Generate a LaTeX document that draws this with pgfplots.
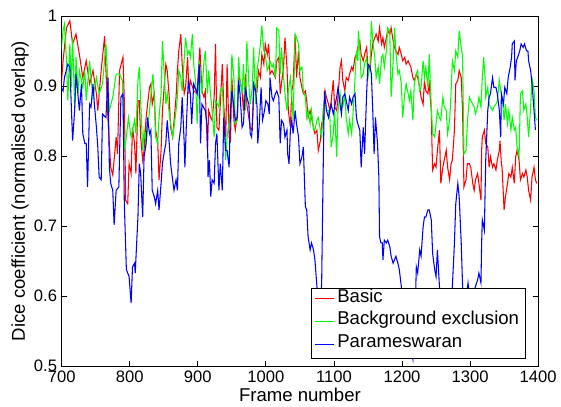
\documentclass[border=0pt]{standalone}
\usepackage{fontspec}
\setmainfont{Liberation Sans}
\usepackage{pgfplots}
\pgfplotsset{compat=1.18}

\begin{document}
\begin{tikzpicture}[
    legtext/.style={anchor=mid west, inner sep=0pt, font=\fontsize{14}{16}\selectfont},
]
\begin{axis}[
    scale only axis,
    width=359pt, height=264pt,
    xmin=700, xmax=1400, ymin=0.5, ymax=1,
    xtick={700,800,...,1400},
    ytick={0.5,0.6,0.7,0.8,0.9,1},
    yticklabels={0.5,0.6,0.7,0.8,0.9,1},
    tick align=inside,
    major tick length=4pt,
    axis line style={line width=0.6pt},
    every tick/.style={black, line width=0.6pt},
    ticklabel style={font=\fontsize{12.5}{14}\selectfont},
    /pgf/number format/assume math mode=true,
    /pgf/number format/1000 sep={},
    xlabel={Frame number},
    ylabel={Dice coefficient (normalised overlap)},
    label style={font=\fontsize{14}{16}\selectfont},
    xlabel style={yshift=3pt},
    ylabel style={yshift=-3pt},
    every axis plot/.append style={line width=0.8pt},
]
% Basic
\addplot[red] coordinates {
(697,0.870) (702,0.936) (707,0.983) (712,0.993) (716,0.960) (721,0.974) (726,0.945)
(731,0.912) (736,0.936) (741,0.903) (746,0.922) (751,0.889) (753,0.865) (758,0.922)
(763,0.971) (768,0.851) (772,0.784) (775,0.773) (780,0.827) (782,0.803)
(785,0.922) (790,0.941) (792,0.879) (794,0.737) (797,0.732) (799,0.789) (802,0.775)
(804,0.841) (807,0.818) (809,0.775) (812,0.879) (814,0.879) (816,0.827) (819,0.794)
(821,0.808) (824,0.855) (829,0.898) (831,0.903) (833,0.874) (836,0.889) (838,0.837)
(841,0.822) (843,0.766) (846,0.808) (848,0.865) (853,0.931) (855,0.922) (858,0.884)
(860,0.841) (863,0.827) (868,0.884) (870,0.922)
(872,0.950) (875,0.974) (877,0.931) (880,0.889) (882,0.898) (885,0.941) (887,0.889)
(889,0.908) (894,0.893) (899,0.889) (903,0.955) (906,0.893) (909,0.884) (911,0.893)
(914,0.808) (916,0.865) (919,0.855) (921,0.851) (924,0.884) (926,0.960) (928,0.841)
(931,0.837) (933,0.874) (936,0.931) (938,0.874) (941,0.827) (943,0.931) (946,0.827)
(948,0.822) (950,0.912) (953,0.851) (955,0.837) (958,0.860) (960,0.917)
(962,0.908) (965,0.893) (967,0.865) (970,0.917) (972,0.874) (977,0.841) (980,0.837)
(982,0.893) (985,0.898) (987,0.893) (989,0.922) (992,0.912) (994,0.945) (997,0.931)
(999,0.960) (1002,0.945) (1004,0.960) (1006,0.917) (1009,0.922) (1014,0.912)
(1016,0.936) (1019,0.941) (1021,0.889) (1026,0.927) (1028,0.969) (1031,0.927)
(1033,0.865) (1036,0.841) (1038,0.893) (1040,0.903) (1043,0.974) (1045,0.912)
(1048,0.950) (1050,0.912) (1053,0.898) (1055,0.889) (1058,0.893) (1060,0.879)
(1062,0.855) (1065,0.865) (1067,0.855) (1070,0.841) (1072,0.832) (1075,0.837)
(1077,0.808) (1080,0.822) (1082,0.846) (1084,0.841) (1087,0.893) (1089,0.884)
(1092,0.874) (1094,0.865) (1096,0.879) (1099,0.908) (1101,0.870) (1104,0.865)
(1106,0.884) (1109,0.927) (1111,0.936) (1113,0.908) (1116,0.893) (1118,0.912)
(1121,0.908) (1123,0.917) (1126,0.927) (1128,0.922) (1131,0.941) (1133,0.945)
(1135,0.955) (1138,0.964) (1140,0.945) (1143,0.936) (1145,0.945) (1148,0.955)
(1150,0.927) (1153,0.922) (1155,0.945) (1157,0.960) (1160,0.969) (1162,0.974)
(1165,0.964) (1167,0.983) (1170,0.960) (1172,0.969) (1174,0.955) (1177,0.969)
(1179,0.979) (1182,0.974) (1184,0.983) (1187,0.964) (1189,0.955) (1191,0.950)
(1194,0.945) (1196,0.955) (1199,0.945) (1201,0.936) (1204,0.941) (1206,0.931)
(1209,0.936) (1211,0.931) (1213,0.927) (1216,0.912) (1218,0.908) (1221,0.917)
(1223,0.912) (1226,0.898) (1228,0.884) (1231,0.874) (1233,0.908) (1235,0.893)
(1238,0.889) (1240,0.903) (1243,0.865) (1244,0.818) (1245,0.780) (1248,0.789)
(1250,0.784) (1252,0.808) (1255,0.837) (1257,0.761) (1260,0.784) (1262,0.794)
(1265,0.808) (1267,0.784) (1270,0.766) (1272,0.789) (1274,0.794) (1277,0.837)
(1279,0.903) (1282,0.908) (1284,0.922) (1287,0.912) (1289,0.865) (1291,0.756)
(1294,0.766) (1296,0.789) (1299,0.789) (1301,0.784) (1304,0.761) (1306,0.751)
(1308,0.766) (1311,0.775) (1313,0.761) (1316,0.737) (1317,0.808) (1318,0.827)
(1321,0.837) (1323,0.818) (1326,0.813) (1328,0.784) (1330,0.799) (1333,0.784)
(1335,0.789) (1338,0.780) (1340,0.794) (1343,0.808) (1344,0.822) (1346,0.789)
(1347,0.784) (1350,0.723) (1352,0.742) (1355,0.761) (1357,0.775) (1360,0.770)
(1362,0.784) (1365,0.761) (1367,0.799) (1369,0.808) (1372,0.794) (1374,0.766)
(1377,0.775) (1379,0.770) (1382,0.780) (1384,0.770) (1386,0.751) (1389,0.737)
(1391,0.770) (1394,0.784) (1396,0.766) (1398,0.761)
};
% Background exclusion
\addplot[green] coordinates {
(697,0.912) (699,0.950) (702,0.979) (704,0.988) (707,0.936) (709,0.879) (712,0.960)
(714,0.898) (716,0.969) (719,0.870) (721,0.941) (724,0.889) (726,0.922) (731,0.898)
(734,0.922) (736,0.879) (741,0.936) (743,0.912) (746,0.884) (751,0.912) (755,0.889)
(760,0.903) (765,0.960) (770,0.865) (775,0.884) (780,0.917) (785,0.917)
(789,0.908) (792,0.808) (795,0.827) (798,0.855) (802,0.827) (807,0.851) (809,0.832)
(812,0.908) (814,0.927) (816,0.879) (819,0.808) (821,0.837) (824,0.818) (829,0.865)
(834,0.917) (836,0.884) (838,0.827) (841,0.818) (843,0.855) (846,0.889) (848,0.964)
(851,0.912) (853,0.874) (855,0.889) (858,0.860) (863,0.827) (865,0.841) (868,0.865)
(870,0.884) (872,0.922) (875,0.912) (877,0.893) (882,0.969) (885,0.945) (887,0.950)
(889,0.941) (892,0.974) (894,0.931) (897,0.903) (899,0.846) (902,0.936) (904,0.912)
(906,0.889) (909,0.936) (911,0.950) (914,0.889) (916,0.922) (919,0.884) (921,0.865)
(924,0.827) (926,0.879) (931,0.870) (933,0.893) (936,0.898) (941,0.794) (943,0.827)
(946,0.851) (948,0.865) (950,0.945) (953,0.912) (955,0.846) (958,0.851) (960,0.941)
(962,0.908) (965,0.889) (967,0.931) (970,0.865) (972,0.964) (975,0.903) (977,0.874)
(980,0.898) (982,0.955) (985,0.874) (987,0.922) (989,0.936) (992,0.960) (994,0.986)
(997,0.950) (999,0.945) (1002,0.922) (1004,0.927) (1006,0.936) (1009,0.927)
(1011,0.931) (1014,0.912) (1016,0.983) (1019,0.979) (1021,0.917) (1023,0.955)
(1026,0.912) (1028,0.889) (1031,0.865) (1033,0.893) (1036,0.912) (1038,0.884)
(1040,0.851) (1043,0.974) (1045,0.969) (1048,0.960) (1050,0.922) (1053,0.927)
(1055,0.893) (1058,0.884) (1060,0.855) (1062,0.865) (1065,0.846) (1067,0.865)
(1070,0.837) (1072,0.837) (1075,0.851) (1077,0.855) (1080,0.837) (1082,0.827)
(1084,0.865) (1087,0.884) (1089,0.865) (1092,0.865) (1094,0.855) (1096,0.813)
(1099,0.832) (1101,0.865) (1104,0.799) (1106,0.865) (1109,0.889) (1111,0.870)
(1113,0.870) (1116,0.889) (1118,0.855) (1121,0.832) (1123,0.851) (1126,0.832)
(1128,0.860) (1131,0.912) (1133,0.950) (1135,0.936) (1136,0.979) (1138,0.950)
(1140,0.912) (1143,0.917) (1145,0.931) (1148,0.941) (1150,0.912) (1153,0.931)
(1155,0.993) (1157,0.964) (1160,0.941) (1162,0.912) (1165,0.927) (1167,0.903)
(1170,0.941) (1172,0.945) (1174,0.927) (1177,0.950) (1179,0.983) (1182,0.979)
(1184,0.884) (1187,0.936) (1189,0.983) (1191,0.950) (1194,0.917) (1196,0.922)
(1199,0.903) (1201,0.855) (1204,0.889) (1206,0.903) (1209,0.889) (1211,0.879)
(1213,0.893) (1216,0.851) (1218,0.903) (1221,0.917) (1223,0.922) (1226,0.893)
(1228,0.898) (1231,0.936) (1233,0.912) (1235,0.927) (1238,0.898) (1240,0.945)
(1243,0.870) (1245,0.832) (1248,0.827) (1250,0.846) (1252,0.865) (1255,0.855)
(1257,0.851) (1260,0.884) (1262,0.870) (1265,0.865) (1267,0.832) (1270,0.851)
(1272,0.889) (1274,0.936) (1277,0.922) (1279,0.950) (1282,0.941) (1284,0.979)
(1287,0.955) (1289,0.941) (1291,0.803) (1294,0.808) (1296,0.846) (1299,0.884)
(1301,0.879) (1304,0.874) (1306,0.870) (1308,0.860) (1311,0.870) (1313,0.884)
(1316,0.870) (1318,0.912) (1320,0.941) (1322,0.912) (1323,0.884) (1326,0.898)
(1328,0.874) (1330,0.870) (1333,0.865) (1335,0.870) (1338,0.874) (1340,0.879)
(1343,0.908) (1345,0.893) (1347,0.884) (1350,0.851) (1352,0.874) (1355,0.846)
(1357,0.865) (1360,0.837) (1362,0.855) (1365,0.837) (1367,0.841) (1369,0.813)
(1372,0.799) (1374,0.889) (1377,0.893) (1379,0.865) (1382,0.874) (1384,0.855)
(1386,0.827) (1389,0.870) (1391,0.912) (1394,0.893) (1396,0.855) (1398,0.851)
};
% Parameswaran
\addplot[blue] coordinates {
(697,0.922) (699,0.898) (702,0.893) (704,0.912) (709,0.931) (712,0.927) (716,0.822)
(719,0.865) (721,0.917) (726,0.865) (729,0.903) (731,0.832) (734,0.818) (736,0.818)
(738,0.756) (741,0.874) (743,0.870) (746,0.903) (748,0.874) (751,0.841) (753,0.813)
(755,0.770) (758,0.766) (760,0.860) (765,0.855) (768,0.912) (770,0.784) (772,0.761)
(775,0.751) (777,0.702) (780,0.751) (784,0.756)
(785,0.803) (787,0.884) (790,0.889) (792,0.732) (795,0.638) (797,0.633) (799,0.628)
(802,0.590) (804,0.642) (807,0.647) (808,0.633) (812,0.713) (814,0.789) (816,0.775)
(819,0.713) (821,0.799) (824,0.818) (826,0.855) (829,0.832) (831,0.837) (833,0.751)
(836,0.742) (838,0.732) (841,0.751) (843,0.723) (846,0.761) (848,0.789) (851,0.808)
(853,0.818) (855,0.851) (858,0.818) (860,0.789) (863,0.766) (865,0.751) (868,0.766)
(870,0.751) (872,0.818) (875,0.841) (877,0.884) (880,0.818) (881,0.784) (883,0.841)
(886,0.908) (889,0.889) (891,0.846) (894,0.903) (899,0.889) (902,0.931) (904,0.818)
(906,0.874) (911,0.865) (914,0.841) (915,0.770) (917,0.794) (919,0.742) (921,0.766)
(924,0.761) (926,0.818) (928,0.832) (931,0.751) (933,0.789) (936,0.751) (938,0.855)
(941,0.808) (943,0.808) (946,0.784) (948,0.865) (950,0.893) (953,0.870) (955,0.851)
(958,0.855) (960,0.908) (962,0.889) (965,0.841) (967,0.846) (970,0.898) (972,0.884)
(975,0.874) (977,0.832) (979,0.827) (981,0.865) (982,0.903) (985,0.893) (987,0.870)
(988,0.818) (990,0.841) (993,0.898) (995,0.851) (998,0.865) (1000,0.879) (1003,0.874)
(1005,0.860) (1006,0.912) (1009,0.884) (1011,0.879) (1014,0.889) (1016,0.893)
(1019,0.884) (1021,0.818) (1023,0.851) (1026,0.846) (1028,0.827) (1031,0.837)
(1032,0.803) (1034,0.789) (1036,0.837) (1038,0.851) (1040,0.832) (1043,0.865)
(1045,0.846) (1048,0.827) (1050,0.789) (1053,0.799) (1055,0.813) (1058,0.728)
(1060,0.723) (1062,0.685) (1065,0.666) (1067,0.676) (1070,0.666) (1072,0.652)
(1075,0.614) (1077,0.590) (1080,0.570) (1082,0.623) (1084,0.770) (1086,0.893)
(1089,0.865) (1092,0.855) (1094,0.865) (1096,0.874) (1099,0.860) (1101,0.870)
(1104,0.884) (1106,0.898) (1109,0.874) (1111,0.860) (1113,0.884) (1116,0.889)
(1118,0.879) (1121,0.865) (1123,0.884) (1126,0.874) (1128,0.884) (1131,0.889)
(1133,0.855) (1135,0.846) (1138,0.837) (1140,0.784) (1143,0.841) (1145,0.803)
(1148,0.889) (1150,0.931) (1153,0.927) (1155,0.917) (1157,0.865) (1159,0.803)
(1161,0.855) (1164,0.818) (1166,0.770) (1167,0.685) (1169,0.676) (1171,0.676)
(1172,0.652) (1174,0.680) (1177,0.676) (1179,0.680) (1182,0.671) (1184,0.657)
(1187,0.647) (1189,0.652) (1191,0.657) (1194,0.647) (1196,0.638) (1199,0.614)
(1203,0.570) (1208,0.550) (1212,0.530) (1216,0.510) (1219,0.560) (1221,0.642)
(1223,0.633) (1226,0.666) (1228,0.657) (1231,0.699) (1233,0.713) (1235,0.713)
(1238,0.723) (1240,0.723) (1243,0.709) (1245,0.661) (1248,0.638) (1250,0.628)
(1252,0.666) (1255,0.614) (1259,0.580) (1263,0.600) (1267,0.570) (1271,0.590)
(1274,0.614) (1277,0.676) (1279,0.732) (1282,0.761) (1284,0.742) (1287,0.676)
(1289,0.614) (1292,0.580) (1297,0.619) (1300,0.590) (1303,0.600) (1308,0.614)
(1311,0.623) (1313,0.633) (1316,0.619) (1317,0.676) (1318,0.709) (1321,0.694)
(1323,0.794) (1326,0.865) (1328,0.884) (1330,0.889) (1333,0.912) (1335,0.898)
(1338,0.898) (1340,0.889) (1343,0.865) (1345,0.827) (1346,0.889) (1349,0.874)
(1351,0.898) (1354,0.889) (1356,0.912) (1359,0.927) (1361,0.941) (1362,0.960)
(1365,0.964) (1366,0.908) (1368,0.936) (1370,0.941) (1373,0.950) (1375,0.960)
(1378,0.955) (1380,0.960) (1383,0.950) (1385,0.950) (1386,0.936) (1389,0.922)
(1391,0.903) (1394,0.865) (1396,0.837)
};
% legend, drawn by hand so that each key keeps its colour
\draw[black, fill=white, line width=0.6pt]
  (rel axis cs:0.524,0.023) rectangle (rel axis cs:0.973,0.222);
\draw[red, line width=0.8pt] (rel axis cs:0.532,0.193) -- (rel axis cs:0.572,0.193);
\draw[green, line width=0.8pt] (rel axis cs:0.532,0.128) -- (rel axis cs:0.572,0.128);
\draw[blue, line width=0.8pt] (rel axis cs:0.532,0.063) -- (rel axis cs:0.572,0.063);
\node[legtext] at (rel axis cs:0.578,0.193) {Basic};
\node[legtext] at (rel axis cs:0.578,0.128) {Background exclusion};
\node[legtext] at (rel axis cs:0.578,0.063) {Parameswaran};
\end{axis}
% whitespace around the axis as in the reference
\path (current axis.south west) ++(-46.5pt,-30.5pt);
\path (current axis.north east) ++(15pt,12pt);
\end{tikzpicture}
\end{document}
